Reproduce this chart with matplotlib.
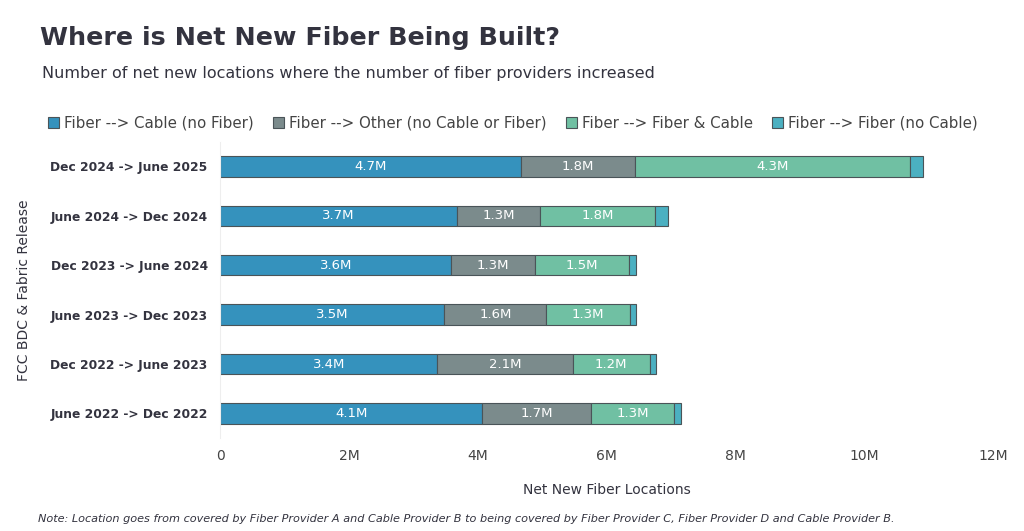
import numpy as np
import matplotlib
matplotlib.use("Agg")
import matplotlib.pyplot as plt
from matplotlib.patches import Patch

# ---------------------------------------------------------
# Data (millions of locations)
# ---------------------------------------------------------
periods = [
    "June 2022 -> Dec 2022",
    "Dec 2022 -> June 2023",
    "June 2023 -> Dec 2023",
    "Dec 2023 -> June 2024",
    "June 2024 -> Dec 2024",
    "Dec 2024 -> June 2025",
]
to_cable = [4.07, 3.37, 3.48, 3.59, 3.68, 4.67]
to_other = [1.69, 2.10, 1.58, 1.29, 1.29, 1.77]
to_fiber_cable = [1.29, 1.20, 1.30, 1.47, 1.78, 4.27]
to_fiber_only = [0.11, 0.09, 0.09, 0.11, 0.20, 0.20]

series_names = [
    "Fiber --> Cable (no Fiber)",
    "Fiber --> Other (no Cable or Fiber)",
    "Fiber --> Fiber & Cable",
    "Fiber --> Fiber (no Cable)",
]
series_colors = ["#3592bd", "#7b8b8c", "#70c0a3", "#4bb0c1"]
xticks = [0, 2, 4, 6, 8, 10, 12]
xtick_labels = ["0", "2M", "4M", "6M", "8M", "10M", "12M"]

text_dark = "#33333f"
plt.rcParams["font.family"] = ["DejaVu Sans"]

fig = plt.figure(figsize=(10.24, 5.31), dpi=100)
ax = fig.add_axes([0.215, 0.175, 0.755, 0.558])

y = np.arange(len(periods))
left = np.zeros(len(periods))
for vals, name, col in zip([to_cable, to_other, to_fiber_cable, to_fiber_only],
                           series_names, series_colors):
    vals = np.array(vals)
    ax.barh(y, vals, left=left, height=0.41, color=col, edgecolor="#4a5458",
            linewidth=0.8, label=name)
    for yi, l, v in zip(y, left, vals):
        if v >= 1.0:
            ax.text(l + v / 2, yi, f"{v:.1f}M", ha="center", va="center",
                    color="white", fontsize=9.5)
    left += vals

ax.set_xlim(0, 12)
ax.set_ylim(-0.5, len(periods) - 0.5)
ax.set_xticks(xticks)
ax.set_xticklabels(xtick_labels, fontsize=10, color="#444444")
ax.set_yticks(y)
ax.set_yticklabels(periods, fontsize=8.8, fontweight="bold", color=text_dark)
ax.tick_params(axis="both", length=0)
ax.tick_params(axis="y", pad=9)
ax.tick_params(axis="x", pad=8)
for s in ["top", "right", "bottom"]:
    ax.spines[s].set_visible(False)
ax.spines["left"].set_color("#eeeeee")

ax.set_xlabel("Net New Fiber Locations", fontsize=10, color=text_dark, labelpad=14)
ax.set_ylabel("FCC BDC & Fabric Release", fontsize=10, color=text_dark, labelpad=14)

fig.text(0.039, 0.928, "Where is Net New Fiber Being Built?", fontsize=18.3,
         fontweight="bold", color=text_dark, va="center")
fig.text(0.041, 0.862, "Number of net new locations where the number of fiber providers increased",
         fontsize=11.5, color=text_dark, va="center")

handles = [Patch(facecolor=c, edgecolor="#4a5458", linewidth=0.8) for c in series_colors]
fig.legend(handles, series_names, loc="center left", bbox_to_anchor=(0.034, 0.768),
           ncol=4, frameon=False, fontsize=10.8, handlelength=0.7, handleheight=0.7,
           handletextpad=0.35, columnspacing=1.3, labelcolor="#444444")

fig.text(0.037, 0.022,
         "Note: Location goes from covered by Fiber Provider A and Cable Provider B to being "
         "covered by Fiber Provider C, Fiber Provider D and Cable Provider B.",
         fontsize=8.1, style="italic", color=text_dark, va="center")

fig.savefig("out.png", dpi=100)
